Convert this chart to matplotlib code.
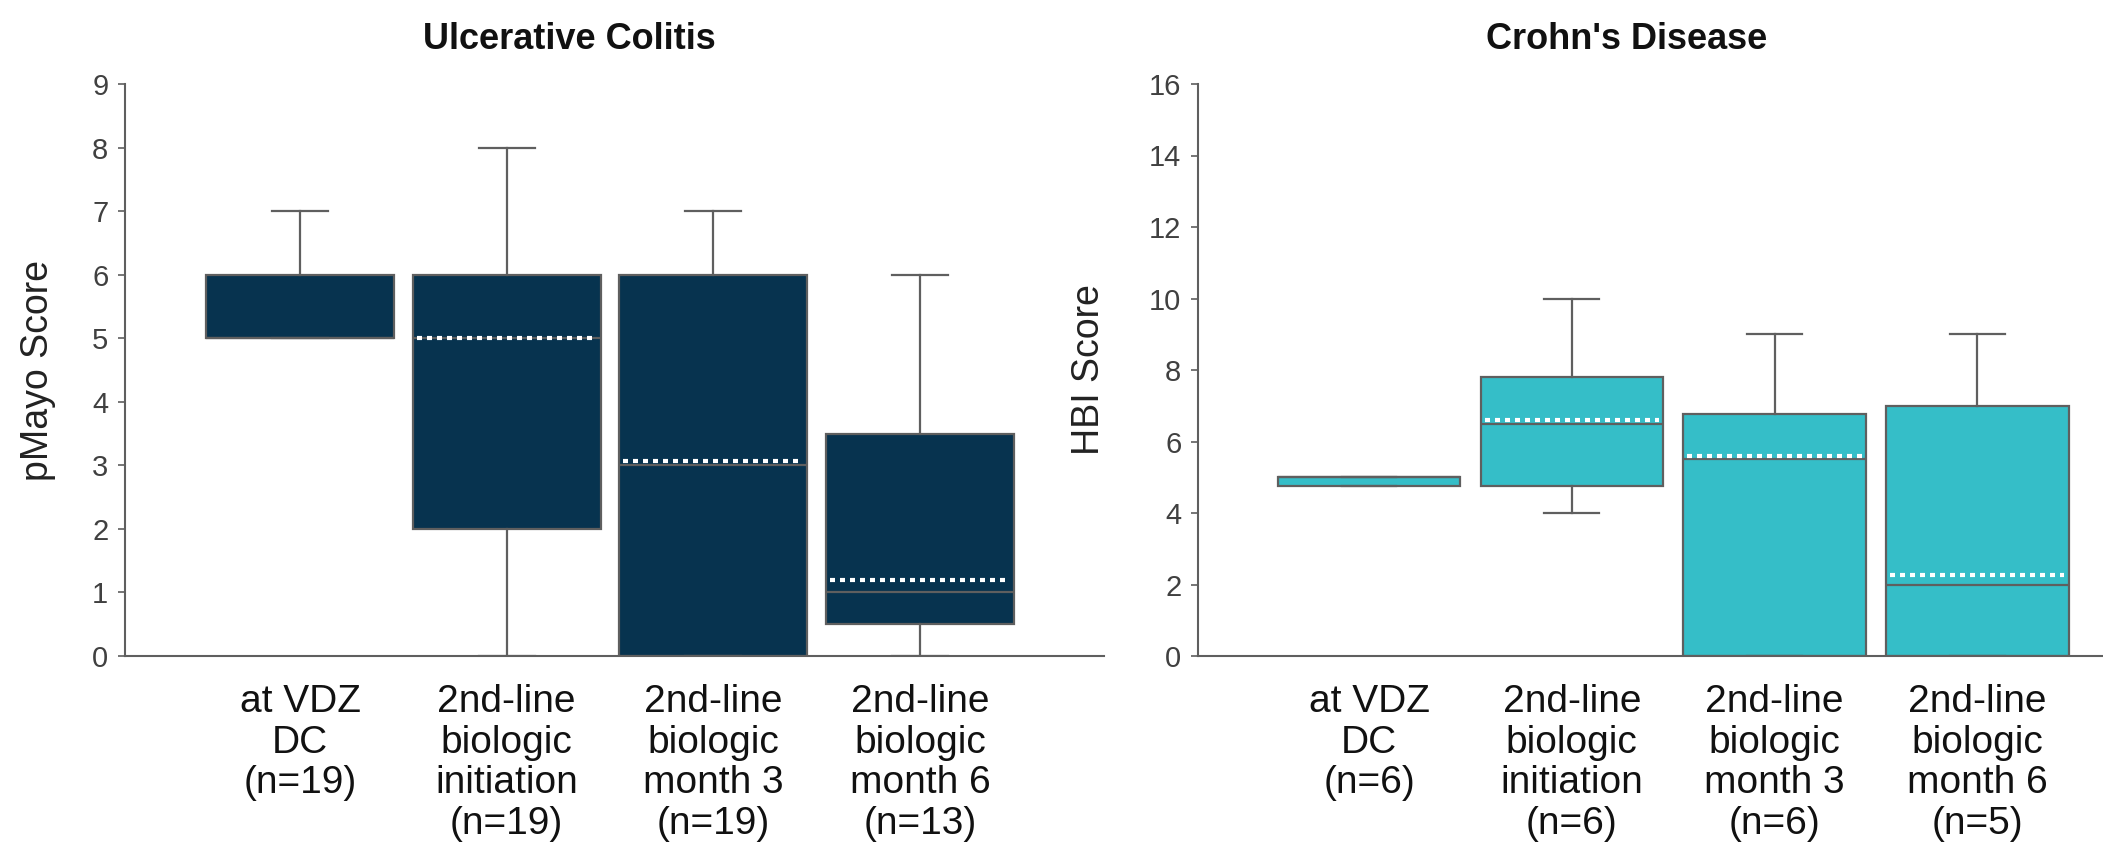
import numpy as np
import matplotlib
matplotlib.use("Agg")
import matplotlib.pyplot as plt

plt.rcParams['font.family'] = ['Liberation Sans', 'DejaVu Sans']

# ---------------- data ----------------
uc_labels = ["at VDZ\nDC\n(n=19)", "2nd-line\nbiologic\ninitiation\n(n=19)",
             "2nd-line\nbiologic\nmonth 3\n(n=19)", "2nd-line\nbiologic\nmonth 6\n(n=13)"]
uc_whislo = [5, 0, 0, 0]
uc_q1 = [5, 2, 0, 0.5]
uc_med = [5, 5, 3, 1]
uc_q3 = [6, 6, 6, 3.5]
uc_whishi = [7, 8, 7, 6]
uc_mean = [np.nan, 5.0, 3.07, 1.2]

cd_labels = ["at VDZ\nDC\n(n=6)", "2nd-line\nbiologic\ninitiation\n(n=6)",
             "2nd-line\nbiologic\nmonth 3\n(n=6)", "2nd-line\nbiologic\nmonth 6\n(n=5)"]
cd_whislo = [4.75, 4, 0, 0]
cd_q1 = [4.75, 4.75, 0, 0]
cd_med = [5, 6.5, 5.5, 2]
cd_q3 = [5, 7.8, 6.78, 7]
cd_whishi = [5, 10, 9, 9]
cd_mean = [np.nan, 6.6, 5.6, 2.27]

uc_color = "#07334F"
cd_color = "#35BEC8"
edge = "#5f5f5f"

fig = plt.figure(figsize=(21.03, 8.48), dpi=100)
ax1 = fig.add_axes([125/2103, 1-656/848, (1104-125)/2103, (656-84)/848])
ax2 = fig.add_axes([1198/2103, 1-656/848, (2103-1198)/2103, (656-84)/848])


def draw(ax, labels, wlo, q1, med, q3, whi, mean, color, ylim, yticks, ylabel, title, xlim, width):
    pos = np.arange(1, len(labels) + 1)
    stats = [dict(whislo=a, q1=b, med=c, q3=d, whishi=e, fliers=[])
             for a, b, c, d, e in zip(wlo, q1, med, q3, whi)]
    ax.bxp(stats, positions=pos, widths=width, patch_artist=True, showfliers=False,
           capwidths=0.27,
           boxprops=dict(facecolor=color, edgecolor=edge, linewidth=1.6),
           whiskerprops=dict(color=edge, linewidth=1.6),
           capprops=dict(color=edge, linewidth=1.6),
           medianprops=dict(color=edge, linewidth=1.6))
    for p, m in zip(pos, mean):
        if np.isfinite(m):
            ax.hlines(m, p - width/2 + 0.02, p + width/2 - 0.02, colors="white",
                      linewidth=3.0, linestyles=(0, (1.2, 1.2)), zorder=5)
    ax.set_xlim(*xlim)
    ax.set_ylim(*ylim)
    ax.set_yticks(yticks)
    ax.set_xticks(pos)
    ax.set_xticklabels(labels, fontsize=28, linespacing=1.17, color="#111111")
    ax.tick_params(axis='x', length=0, pad=20)
    ax.tick_params(axis='y', length=5, width=1.2, color=edge, labelsize=21,
                   labelcolor="#404040", pad=7)
    for s in ['top', 'right']:
        ax.spines[s].set_visible(False)
    for s in ['left', 'bottom']:
        ax.spines[s].set_color(edge)
        ax.spines[s].set_linewidth(1.5)
    ax.set_ylabel(ylabel, fontsize=27, color="#222222")
    ax.set_title(title, fontsize=26, fontweight='bold', pad=25, color="#111111")


draw(ax1, uc_labels, uc_whislo, uc_q1, uc_med, uc_q3, uc_whishi, uc_mean, uc_color,
     (0, 9), range(0, 10), "pMayo Score", "Ulcerative Colitis", (0.153, 4.89), 0.91)
draw(ax2, cd_labels, cd_whislo, cd_q1, cd_med, cd_q3, cd_whishi, cd_mean, cd_color,
     (0, 16), range(0, 17, 2), "HBI Score", "Crohn's Disease", (0.156, 4.62), 0.9)

ax1.yaxis.set_label_coords(-(125-56)/979, 0.5)
ax2.yaxis.set_label_coords(-(1198-1107)/905, 0.5)
ax1.title.set_position((444/979, 1))
ax2.title.set_position((429/905, 1))

fig.savefig("out.png", dpi=100)
